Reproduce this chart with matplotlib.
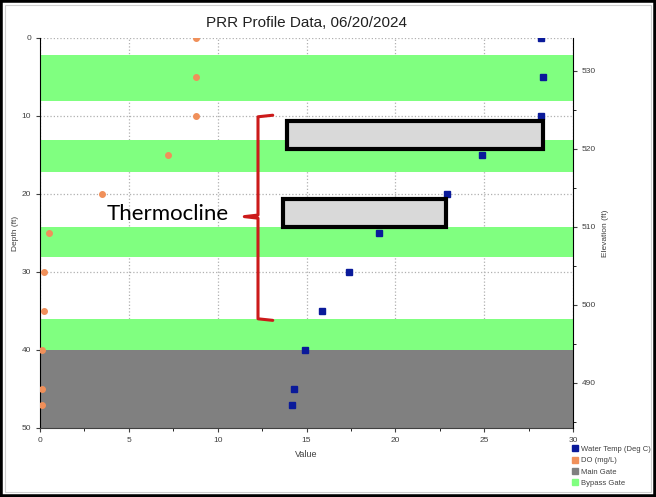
import numpy as np
import matplotlib.pyplot as plt
from matplotlib.patches import Rectangle
from matplotlib.path import Path
from matplotlib.patches import PathPatch
from matplotlib.lines import Line2D

plt.rcParams['font.family'] = ['Liberation Sans', 'DejaVu Sans']

# profile data
depth = [0, 5, 10, 15, 20, 25, 30, 35, 40, 45, 47]
water_temp = [28.2, 28.3, 28.2, 24.9, 22.9, 19.1, 17.4, 15.9, 14.9, 14.3, 14.2]
do_mgl = [8.8, 8.8, 8.8, 7.2, 3.5, 0.5, 0.2, 0.2, 0.1, 0.1, 0.1]

# gate ranges (depth ft)
bypass_top = [2.2, 13.1, 24.2, 36.0]
bypass_bot = [8.1, 17.2, 28.1, 40.0]
main_top = [40.0]
main_bot = [50.0]

surface_elev = 534.2

fig = plt.figure(figsize=(6.56, 4.97), dpi=100)
ax = fig.add_axes([40/656, 1-428/497, 533/656, 390/497])

ax.set_xlim(0, 30)
ax.set_ylim(50, 0)
ax.set_axisbelow(True)
ax.grid(True, linestyle=':', color='#b0b0b0', linewidth=0.9)

for t, b in zip(main_top, main_bot):
    ax.axhspan(t, b, color='#808080', lw=0, zorder=1)
for t, b in zip(bypass_top, bypass_bot):
    ax.axhspan(t, b, color='#80ff80', lw=0, zorder=1)

ax.plot(water_temp, depth, 's', color='#0a1a9a', ms=4.5, zorder=3)
ax.plot(do_mgl, depth, 'o', color='#f0905a', ms=4, zorder=3)

ax.set_xticks(np.arange(0, 31, 5))
ax.set_xticks(np.arange(0, 31, 2.5), minor=True)
ax.set_yticks(np.arange(0, 51, 10))
ax.tick_params(labelsize=6, colors='#404040', length=3)
ax.tick_params(which='minor', length=2)
for s in ['top', 'right']:
    ax.spines[s].set_visible(False)
ax.spines['left'].set_color('black')
ax.spines['bottom'].set_color('#404040')
ax.set_xlabel('Value', fontsize=6.5, color='#404040', labelpad=4)
ax.set_ylabel('Depth (ft)', fontsize=6, color='#404040', labelpad=2)

ax2 = ax.twinx()
ax2.set_ylim(surface_elev - 50, surface_elev)
ax2.set_yticks(np.arange(490, 531, 10))
ax2.set_yticks(np.arange(485, 534, 5), minor=True)
ax2.tick_params(labelsize=6, colors='#404040', length=3)
ax2.tick_params(which='minor', length=2)
for s in ['top', 'left', 'bottom']:
    ax2.spines[s].set_visible(False)
ax2.spines['right'].set_color('black')
ax2.set_ylabel('Elevation (ft)', fontsize=6, color='#404040', rotation=90, labelpad=4)

ax.set_title('PRR Profile Data, 06/20/2024', fontsize=11, color='#202020', pad=8)

# annotations
for (x0, y0, w, h) in [(13.9, 10.6, 14.4, 3.6), (13.7, 20.6, 9.15, 3.6)]:
    box = Rectangle((x0, y0), w, h, facecolor='#d9d9d9', edgecolor='black',
                    lw=3, zorder=5)
    ax.add_patch(box)

bx, sx, tx = 12.27, 13.1, 11.5
verts = [(sx, 9.9), (bx, 10.1), (bx, 22.7), (tx, 22.9), (bx, 23.1), (bx, 36.0), (sx, 36.2)]
ax.add_patch(PathPatch(Path(verts), fill=False, edgecolor='#cc1a1a', lw=2.2, zorder=5,
                       joinstyle='round', capstyle='round'))
ax.text(10.65, 22.5, 'Thermocline', fontsize=16, family='Lato', ha='right', va='center',
        color='black', zorder=6)

handles = [
    Line2D([], [], marker='s', ls='', color='#0a1a9a', ms=4),
    Line2D([], [], marker='s', ls='', color='#f0905a', ms=4),
    Line2D([], [], marker='s', ls='', color='#808080', ms=4),
    Line2D([], [], marker='s', ls='', color='#80ff80', ms=4),
]
fig.legend(handles, ['Water Temp (Deg C)', 'DO (mg/L)', 'Main Gate', 'Bypass Gate'],
           loc='upper left', bbox_to_anchor=(568/656, 1-442/497), frameon=False,
           fontsize=5.5, handlelength=0.8, handletextpad=0.4, labelspacing=0.5,
           borderpad=0, labelcolor='#404040')

fig.patches.append(Rectangle((5/656, 5/497), 1-10/656, 1-10/497, transform=fig.transFigure,
                             fill=False, edgecolor='#d0d0d0', lw=0.8))
fig.patches.append(Rectangle((0, 0), 1, 1, transform=fig.transFigure,
                             fill=False, edgecolor='black', lw=4))

fig.savefig('out.png', dpi=100)
